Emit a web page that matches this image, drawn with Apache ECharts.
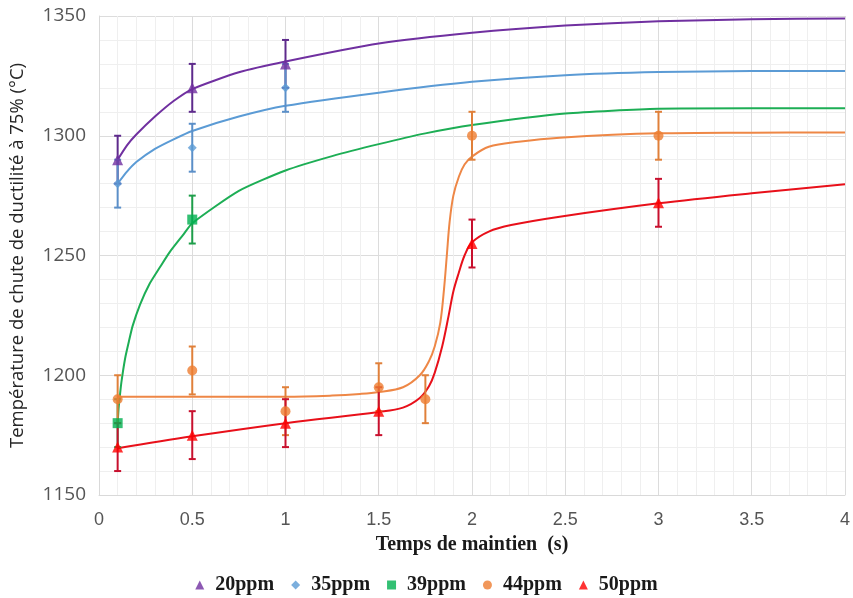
<!DOCTYPE html>
<html>
<head>
<meta charset="utf-8">
<script src="https://cdn.jsdelivr.net/npm/echarts@6/dist/echarts.min.js"></script>
<style>
html,body{margin:0;padding:0;background:#fff;}
#chart{width:853px;height:598px;}
</style>
</head>
<body>
<div id="chart"></div>
<script>
// ---- Data ----
const seriesNames = ['20ppm', '35ppm', '39ppm', '44ppm', '50ppm'];

// measured points [time (s), temperature (°C)]
const pts20 = [[0.1, 1290], [0.5, 1320], [1, 1330]];
const pts35 = [[0.1, 1280], [0.5, 1295], [1, 1320]];
const pts39 = [[0.1, 1180], [0.5, 1265]];
const pts44 = [[0.1, 1190], [0.5, 1202], [1, 1185], [1.5, 1195], [1.75, 1190], [2, 1300], [3, 1300]];
const pts50 = [[0.1, 1170], [0.5, 1175], [1, 1180], [1.5, 1185], [2, 1255], [3, 1272]];

// error bar half-widths (°C)
const err20 = [10, 10, 10];
const err35 = [10, 10, 10];
const err39 = [10, 10];
const err44 = [10, 10, 10, 10, 10, 10, 10];
const err50 = [10, 10, 10, 10, 10, 10];

// fitted curves
const fit20 = [[0.1, 1290], [0.15, 1296], [0.2, 1300.5], [0.3, 1308], [0.4, 1314.5], [0.5, 1319.5], [0.75, 1326.5], [1, 1331], [1.5, 1338.5], [2, 1343], [2.5, 1346], [3, 1347.8], [3.5, 1348.6], [4, 1349]];
const fit35 = [[0.1, 1280], [0.15, 1285], [0.2, 1289], [0.3, 1294.5], [0.4, 1298.5], [0.5, 1302], [0.75, 1308], [1, 1312.5], [1.5, 1318], [2, 1322.5], [2.5, 1325.3], [3, 1326.6], [3.5, 1327], [4, 1327]];
const fit39 = [[0.1, 1180], [0.105, 1186], [0.11, 1190], [0.12, 1197], [0.14, 1207], [0.16, 1214], [0.18, 1220.5], [0.22, 1229.5], [0.27, 1238], [0.33, 1245.5], [0.38, 1251.5], [0.45, 1258.5], [0.5, 1263.5], [0.75, 1277], [1, 1285.5], [1.25, 1291.5], [1.5, 1296.5], [1.75, 1301], [2, 1304.5], [2.5, 1309.3], [3, 1311.3], [3.5, 1311.5], [4, 1311.5]];
const fit44 = [[0.1, 1191], [0.5, 1191], [1, 1191], [1.25, 1191.5], [1.4, 1192.2], [1.5, 1193], [1.63, 1195], [1.72, 1200], [1.77, 1206], [1.8, 1212], [1.83, 1222], [1.85, 1236], [1.865, 1250], [1.88, 1264], [1.9, 1275], [1.93, 1283], [1.96, 1288], [2, 1291.3], [2.09, 1295.4], [2.25, 1297.5], [2.47, 1299.2], [3, 1301], [3.5, 1301.3], [4, 1301.4]];
const fit50 = [[0.1, 1169.5], [0.5, 1174.5], [1, 1180], [1.5, 1184.7], [1.63, 1186.5], [1.72, 1190.5], [1.77, 1195.5], [1.8, 1201], [1.84, 1212], [1.875, 1225], [1.9, 1235], [1.93, 1243], [1.96, 1250], [2, 1255.5], [2.09, 1260], [2.21, 1262.7], [2.47, 1266.2], [3, 1271.8], [3.5, 1276], [4, 1279.7]];

// axis ticks
const xTicks = [0, 0.5, 1, 1.5, 2, 2.5, 3, 3.5, 4];
const yTicks = [1150, 1200, 1250, 1300, 1350];

// ---- Build options ----
const groups = [
  {name: seriesNames[0], pts: pts20, err: err20, fit: fit20, mk: '#7030A0', line: '#7030A0', eb: '#5E2A8C', symbol: 'triangle', size: 11, sm: 0.2},
  {name: seriesNames[1], pts: pts35, err: err35, fit: fit35, mk: '#5B9BD5', line: '#5B9BD5', eb: '#5B8FC8', symbol: 'diamond', size: 9, sm: 0.2},
  {name: seriesNames[2], pts: pts39, err: err39, fit: fit39, mk: '#00B050', line: '#1DAE55', eb: '#1E9E4A', symbol: 'rect', size: 10, sm: 0.2},
  {name: seriesNames[3], pts: pts44, err: err44, fit: fit44, mk: '#ED7D31', line: '#EE8746', eb: '#E0803A', symbol: 'circle', size: 10, sm: 0.35},
  {name: seriesNames[4], pts: pts50, err: err50, fit: fit50, mk: '#FF0000', line: '#E8101A', eb: '#C8102E', symbol: 'triangle', size: 11, sm: 0.35}
];

const series = [];
groups.forEach(function (g, gi) {
  series.push({
    name: g.name + ' fit',
    type: 'line',
    data: g.fit,
    smooth: g.sm,
    showSymbol: false,
    lineStyle: {color: g.line, width: 2},
    itemStyle: {color: g.line},
    z: 2 + gi * 0.01,
    silent: true
  });
});
groups.forEach(function (g, gi) {
  const ebData = g.pts.map(function (p, i) { return [p[0], p[1] - g.err[i], p[1] + g.err[i]]; });
  series.push({
    name: g.name + ' err',
    type: 'custom',
    data: ebData,
    z: 3 + gi * 0.01,
    silent: true,
    renderItem: function (params, api) {
      const x = api.value(0), lo = api.value(1), hi = api.value(2);
      const a = api.coord([x, hi]), b = api.coord([x, lo]);
      const w = 3.5;
      const st = {stroke: g.eb, lineWidth: 2, fill: null};
      return {
        type: 'group',
        children: [
          {type: 'line', shape: {x1: a[0], y1: a[1], x2: b[0], y2: b[1]}, style: st},
          {type: 'line', shape: {x1: a[0] - w, y1: a[1], x2: a[0] + w, y2: a[1]}, style: st},
          {type: 'line', shape: {x1: b[0] - w, y1: b[1], x2: b[0] + w, y2: b[1]}, style: st}
        ]
      };
    }
  });
});
groups.forEach(function (g, gi) {
  series.push({
    name: g.name,
    type: 'scatter',
    data: g.pts,
    symbol: g.symbol,
    symbolSize: g.size,
    itemStyle: {color: g.mk},
    z: 4 + gi * 0.01
  });
});

const chart = echarts.init(document.getElementById('chart'), null, {renderer: 'canvas'});
chart.setOption({
  animation: false,
  backgroundColor: '#ffffff',
  grid: {left: 93, right: 5, top: 16, bottom: 103, containLabel: false},
  legend: {
    data: groups.map(function (g) { return {name: g.name, icon: g.symbol}; }),
    top: 570,
    left: 'center',
    itemWidth: 9,
    itemHeight: 9,
    itemGap: 17,
    textStyle: {fontFamily: 'Liberation Serif', fontWeight: 'bold', fontSize: 20, color: '#1a1a1a', padding: [0, 0, 0, 6]}
  },
  xAxis: {
    type: 'value',
    min: xTicks[0],
    max: xTicks[xTicks.length - 1],
    interval: 0.5,
    name: 'Temps de maintien  (s)',
    nameLocation: 'middle',
    nameGap: 40,
    nameTextStyle: {fontFamily: 'Liberation Serif', fontWeight: 'bold', fontSize: 20, color: '#1a1a1a'},
    axisLine: {show: true, lineStyle: {color: '#d9d9d9', width: 1}},
    axisTick: {show: false},
    axisLabel: {fontFamily: 'Liberation Sans', fontSize: 18, color: '#555', margin: 16},
    splitLine: {show: true, lineStyle: {color: '#dcdcdc', width: 1}},
    minorTick: {show: false, splitNumber: 5},
    minorSplitLine: {show: true, lineStyle: {color: '#efefef', width: 1}}
  },
  yAxis: {
    type: 'value',
    min: yTicks[0],
    max: yTicks[yTicks.length - 1],
    interval: 50,
    name: 'Température de chute de ductilité à 75% (°C)',
    nameLocation: 'middle',
    nameGap: 72,
    nameTextStyle: {fontFamily: 'Open Sans', fontSize: 18.5, color: '#262626'},
    axisLine: {show: true, lineStyle: {color: '#d9d9d9', width: 1}},
    axisTick: {show: false},
    axisLabel: {fontFamily: 'Open Sans', fontSize: 19, color: '#555', margin: 13, formatter: function (v) { return String(v); }},
    splitLine: {show: true, lineStyle: {color: '#dcdcdc', width: 1}},
    minorTick: {show: false, splitNumber: 5},
    minorSplitLine: {show: true, lineStyle: {color: '#efefef', width: 1}}
  },
  series: series
});
</script>
</body>
</html>
